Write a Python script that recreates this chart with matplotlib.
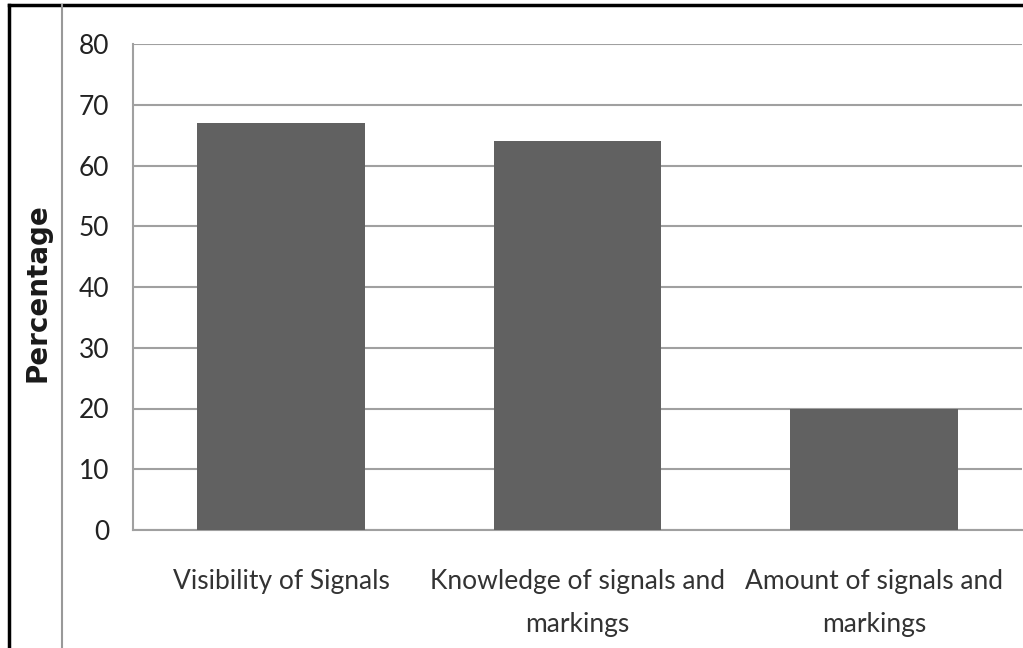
import matplotlib.pyplot as plt
from matplotlib.lines import Line2D

# 数据
categories = ["Visibility of Signals", "Knowledge of signals and\nmarkings", "Amount of signals and\nmarkings"]
values = [67, 64, 20]
yticks = [0, 10, 20, 30, 40, 50, 60, 70, 80]

W, H = 1023, 648
fig = plt.figure(figsize=(W / 100, H / 100), dpi=100)
ax = fig.add_axes([133 / W, 1 - 530 / H, 889 / W, 486 / H])

grid_c = "#a0a0a0"
bar_c = "#616161"

x = range(len(categories))
ax.bar(x, values, width=0.566, color=bar_c, zorder=3)
ax.set_xlim(-0.5, 2.5)
ax.set_ylim(0, 80)
ax.set_yticks(yticks)
ax.yaxis.grid(True, color=grid_c, linewidth=1.5, zorder=0)
ax.set_xticks(list(x))
ax.set_xticklabels(categories, fontsize=19, family="Lato", color="#333333", linespacing=1.9)
ax.set_yticklabels([str(v) for v in yticks], fontsize=19, family="Lato", color="#222222")
ax.tick_params(length=0)
ax.tick_params(axis="y", pad=17)
ax.tick_params(axis="x", pad=28)
for s in ["top", "right"]:
    ax.spines[s].set_visible(False)
for s in ["left", "bottom"]:
    ax.spines[s].set_color(grid_c)
    ax.spines[s].set_linewidth(1.5)

# y 轴标题
fig.text(38 / W, 1 - 293 / H, "Percentage", rotation=90, ha="center", va="center",
         fontsize=20, fontweight="bold", color="#1a1a1a")

# 外框与分隔线
fig.add_artist(Line2D([9 / W, 9 / W], [0, 1 - 5 / H], color="black", linewidth=2.5))
fig.add_artist(Line2D([9 / W, 1], [1 - 5 / H, 1 - 5 / H], color="black", linewidth=2.5))
fig.add_artist(Line2D([62 / W, 62 / W], [0, 1 - 5 / H], color="#999999", linewidth=1.5))

fig.savefig("out.png", dpi=100)
